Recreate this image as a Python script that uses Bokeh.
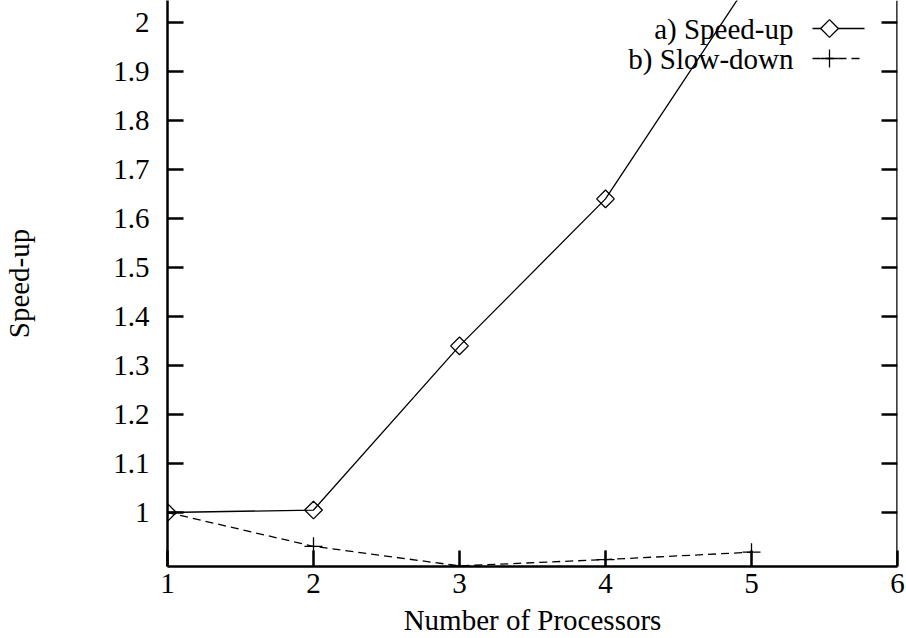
from bokeh.plotting import figure
from bokeh.models import Range1d, LinearAxis, FixedTicker, NumeralTickFormatter, Label, Span, ColumnDataSource
from bokeh.embed import file_html
from bokeh.resources import INLINE
import math

# ---- data ----
processors = [1, 2, 3, 4, 5]
speed_up = [1.0, 1.005, 1.34, 1.64, 2.09]
slow_down = [1.0, 0.931, 0.891, 0.904, 0.919]
x_ticks = [1, 2, 3, 4, 5, 6]
y_ticks = [1.0, 1.1, 1.2, 1.3, 1.4, 1.5, 1.6, 1.7, 1.8, 1.9, 2.0]
series_names = ["a) Speed-up", "b) Slow-down"]
x_title = "Number of Processors"
y_title = "Speed-up"

FONT = "'Liberation Serif', 'Times New Roman', serif"
FS = "29px"
AXW = 2.5
TICK = 16

W, H = 906, 638
ML, MR, MT, MB = 167, 9, 0, 72
X0, X1 = 1, 6
Y0, Y1 = 0.8898, 2.0449

p = figure(width=W, height=H, output_backend="svg", toolbar_location=None,
           x_range=Range1d(X0, X1), y_range=Range1d(Y0, Y1),
           x_axis_location=None, y_axis_location=None,
           min_border_left=ML, min_border_right=MR, min_border_top=MT, min_border_bottom=MB)
p.outline_line_color = None
p.grid.visible = False
p.background_fill_color = "white"
p.border_fill_color = "white"

fw = W - ML - MR
fh = H - MT - MB
def dx(px):
    return X0 + (X1 - X0) * px / fw
def dy(py):
    return Y1 - (Y1 - Y0) * py / fh

def style_axis(ax):
    ax.axis_line_width = AXW
    ax.axis_line_color = "black"
    ax.major_tick_line_width = AXW
    ax.major_tick_line_color = "black"
    ax.major_tick_in = TICK
    ax.major_tick_out = 0
    ax.minor_tick_line_color = None
    ax.major_label_text_font = FONT
    ax.major_label_text_font_size = FS
    ax.major_label_text_color = "black"
    ax.axis_label_text_font = FONT
    ax.axis_label_text_font_size = FS
    ax.axis_label_text_font_style = "normal"
    ax.axis_label_text_color = "black"

bottom = LinearAxis(ticker=FixedTicker(ticks=x_ticks), axis_label=x_title)
style_axis(bottom)
bottom.major_label_standoff = 7
bottom.axis_label_standoff = 8
p.add_layout(bottom, "below")

left = LinearAxis(ticker=FixedTicker(ticks=y_ticks), axis_label=y_title,
                  formatter=NumeralTickFormatter(format="0.[0]"))
style_axis(left)
left.major_label_standoff = 18
left.axis_label_standoff = 75
p.add_layout(left, "left")

# right border with inward ticks (mirror of the left axis)
p.add_layout(Span(location=X1, dimension="height", line_color="black", line_width=AXW))
tick_dx = (X1 - X0) * TICK / fw
p.segment(x0=[X1] * len(y_ticks), x1=[X1 - tick_dx] * len(y_ticks), y0=y_ticks, y1=y_ticks,
          line_color="black", line_width=AXW)

src = ColumnDataSource(dict(x=processors, s=speed_up, d=slow_down))

p.line("x", "s", source=src, line_color="black", line_width=1.3)
p.scatter("x", "s", source=src, marker="square", angle=math.pi / 4, size=12.5,
          fill_color=None, line_color="black", line_width=1.3)
p.line("x", "d", source=src, line_color="black", line_width=1.3, line_dash="8 5")
p.scatter("x", "d", source=src, marker="cross", size=18,
          line_color="black", line_width=1.3)

# ---- legend (layout positions in pixels converted to data space) ----
rows_py = [28, 58]
text_right_px = 626
line_px = (645, 697)
marker_px = 662

for i, name in enumerate(series_names):
    yy = dy(rows_py[i])
    p.add_layout(Label(x=dx(text_right_px), y=yy, text=name, text_align="right",
                       text_baseline="middle", text_font=FONT, text_font_size=FS,
                       text_color="black"))
    p.line([dx(line_px[0]), dx(line_px[1])], [yy, yy], line_color="black", line_width=1.3,
           line_dash="solid" if i == 0 else "8 5")
    if i == 0:
        p.scatter([dx(marker_px)], [yy], marker="square", angle=math.pi / 4, size=12.5,
                  fill_color="white", line_color="black", line_width=1.3)
    else:
        p.scatter([dx(marker_px)], [yy], marker="cross", size=18,
                  line_color="black", line_width=1.3)

open("out.html", "w").write(file_html(p, INLINE))
